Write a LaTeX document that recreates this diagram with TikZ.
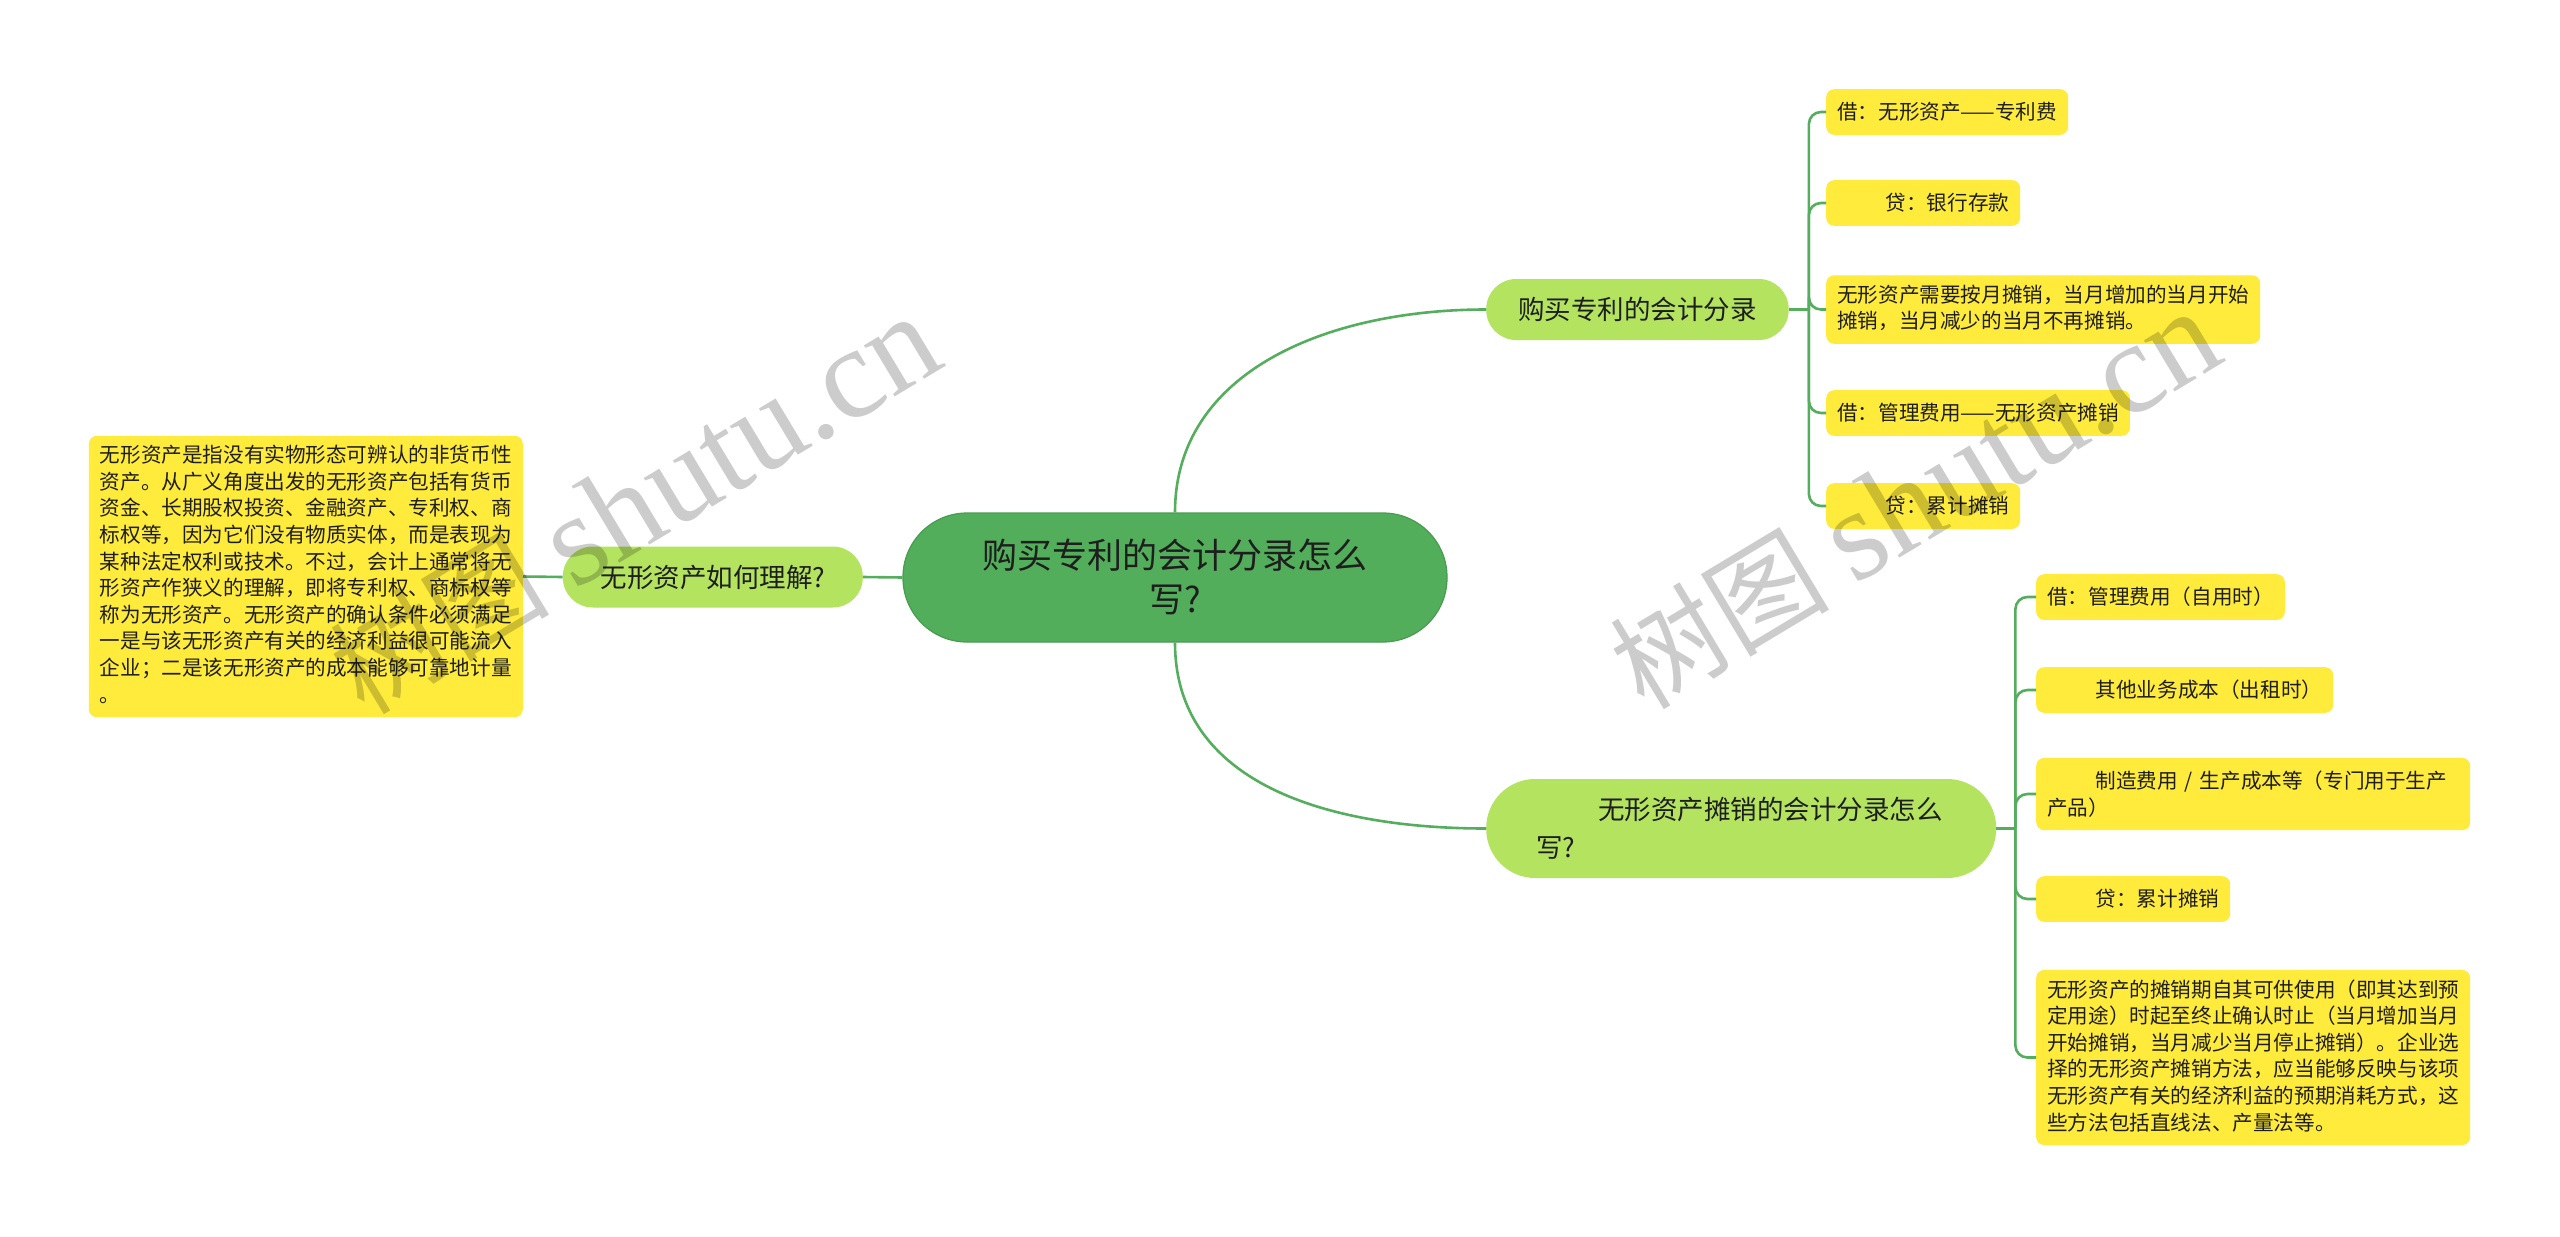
\documentclass[tikz,border=0pt]{standalone}
\usepackage{fontspec}
\setmainfont{Noto Sans CJK SC}
\newfontfamily\wmlatin{Liberation Serif}
\usepackage{tikz}

\definecolor{rootgreen}{HTML}{52AE5A}
\definecolor{rootedge}{HTML}{479C4F}
\definecolor{subgreen}{HTML}{B3E35F}
\definecolor{leafyellow}{HTML}{FFEB3B}
\definecolor{linegreen}{HTML}{55AD5E}
\definecolor{inkdark}{HTML}{1E1E1E}

\newcommand\rootfont{\fontsize{35pt}{44pt}\selectfont}
\newcommand\subfont{\fontsize{26.5pt}{38pt}\selectfont}
\newcommand\leaffont{\fontsize{20.6pt}{26.6pt}\selectfont}
\newcommand\wmfont{\fontsize{110pt}{110pt}\selectfont}
\newcommand\wmlatinfont{\wmlatin\fontsize{130pt}{130pt}\selectfont}
\newcommand\rootstrut{\rule[-8.7pt]{0pt}{44pt}}
\newcommand\substrut{\rule[-9pt]{0pt}{38pt}}
\newcommand\leafstrut{\rule[-5.5pt]{0pt}{26.6pt}}
\newcommand\indentgap{\hspace*{2.35em}}

\begin{document}
\begin{tikzpicture}[x=1pt,y=-1pt,
    rootbox/.style={draw=rootedge, line width=1.2pt, fill=rootgreen, text=inkdark,
      font=\rootfont, text width=390pt, align=center, inner xsep=77pt, inner ysep=20.5pt,
      rounded corners=64pt, execute at begin node=\rootstrut, execute at end node=\rootstrut},
    subbox/.style={fill=subgreen, text=inkdark, font=\subfont, inner xsep=32pt, inner ysep=11.5pt,
      rounded corners=30pt, align=left, execute at begin node=\substrut, execute at end node=\substrut},
    leafbox/.style={fill=leafyellow, text=inkdark, font=\leaffont, inner xsep=11pt, inner ysep=9.5pt,
      rounded corners=8pt, align=left, anchor=west,
      execute at begin node=\leafstrut, execute at end node=\leafstrut},
    branch/.style={draw=linegreen, line width=2.6pt},
    watermark/.style={rotate=31, text=black, opacity=0.2, font=\wmfont, inner sep=0pt}
  ]
  \fill[white] (0,0) rectangle (2560,1237);
  \useasboundingbox (0,0) rectangle (2560,1237);

  % centre and the three main topics
  \node[rootbox] (root) at (1175,577.5) {购买专利的会计分录怎么\\写?};
  \node[subbox, minimum width=300pt, anchor=east] (understand) at (863,577) {无形资产如何理解?};
  \node[subbox, anchor=west] (buy) at (1486,309.5) {购买专利的会计分录};
  \node[subbox, anchor=west, text width=410pt, inner xsep=50pt, rounded corners=49pt] (amort)
    at (1486,828.5) {\indentgap 无形资产摊销的会计分录怎么\\写?};

  % left leaf
  \node[leafbox, anchor=east] (whatis) at (523,576.5) {无形资产是指没有实物形态可辨认的非货币性\\
    资产。从广义角度出发的无形资产包括有货币\\
    资金、长期股权投资、金融资产、专利权、商\\
    标权等，因为它们没有物质实体，而是表现为\\
    某种法定权利或技术。不过，会计上通常将无\\
    形资产作狭义的理解，即将专利权、商标权等\\
    称为无形资产。无形资产的确认条件必须满足\\
    一是与该无形资产有关的经济利益很可能流入\\
    企业；二是该无形资产的成本能够可靠地计量\\
    。};

  % leaves of the purchase entry
  \node[leafbox] (buy1) at (1826,112) {借：无形资产——专利费};
  \node[leafbox] (buy2) at (1826,203) {\indentgap 贷：银行存款};
  \node[leafbox] (buy3) at (1826,309.5) {无形资产需要按月摊销，当月增加的当月开始\\摊销，当月减少的当月不再摊销。};
  \node[leafbox] (buy4) at (1826,413) {借：管理费用——无形资产摊销};
  \node[leafbox] (buy5) at (1826,506) {\indentgap 贷：累计摊销};

  % leaves of the amortisation entry
  \node[leafbox] (am1) at (2036,597) {借：管理费用（自用时）};
  \node[leafbox] (am2) at (2036,690) {\indentgap 其他业务成本（出租时）};
  \node[leafbox, text width=412pt] (am3) at (2036,794) {\indentgap 制造费用 / 生产成本等（专门用于生产\\产品）};
  \node[leafbox] (am4) at (2036,899) {\indentgap 贷：累计摊销};
  \node[leafbox] (am5) at (2036,1057.5) {无形资产的摊销期自其可供使用（即其达到预\\
    定用途）时起至终止确认时止（当月增加当月\\
    开始摊销，当月减少当月停止摊销）。企业选\\
    择的无形资产摊销方法，应当能够反映与该项\\
    无形资产有关的经济利益的预期消耗方式，这\\
    些方法包括直线法、产量法等。};

  % connectors
  \draw[branch] (understand.east) -- (root.west);
  \draw[branch] (whatis.east) -- (understand.west);
  \draw[branch] (root.north) .. controls +(0,-140) and +(-160,0) .. (buy.west);
  \draw[branch] (root.south) .. controls +(0,140) and +(-160,0) .. (amort.west);

  \coordinate (buyhub) at ([xshift=20pt]buy.east);
  \coordinate (amhub) at ([xshift=19pt]amort.east);
  \draw[branch] (buy.east) -- (buyhub);
  \draw[branch] (amort.east) -- (amhub);
  \foreach \n in {buy1,buy2,buy3,buy4,buy5}
    \draw[branch, rounded corners=12pt] (buyhub) |- (\n.west);
  \foreach \n in {am1,am2,am3,am4,am5}
    \draw[branch, rounded corners=12pt] (amhub) |- (\n.west);

  % watermarks
  \node[watermark] (wmleft) at (635,505) {树图 {\wmlatinfont shutu.cn}};
  \node[watermark] (wmright) at (1915,500) {树图 {\wmlatinfont shutu.cn}};
\end{tikzpicture}
\end{document}
